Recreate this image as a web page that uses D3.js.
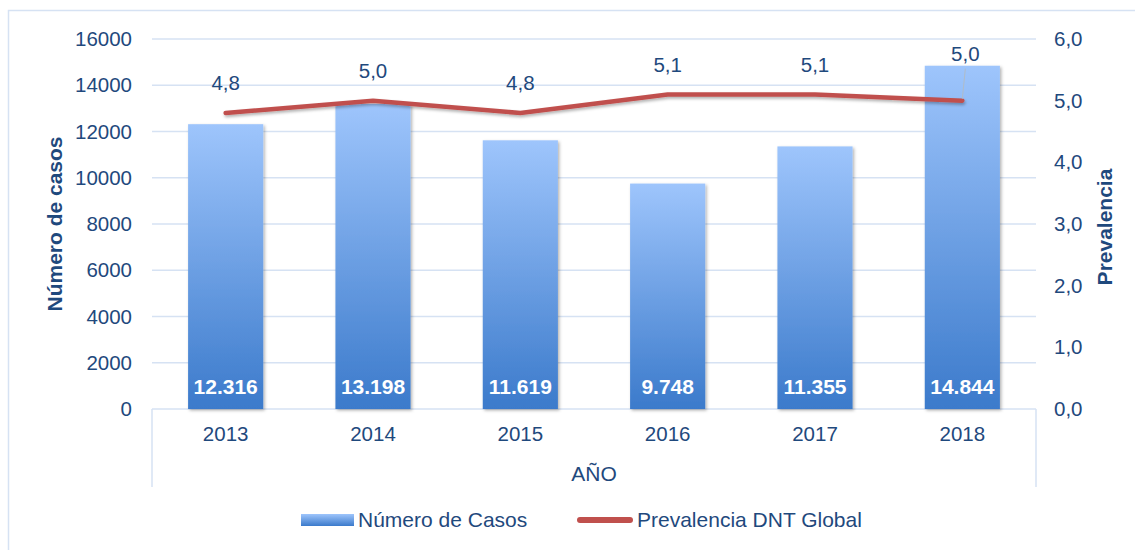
<!DOCTYPE html>
<html>
<head>
<meta charset="utf-8">
<script src="https://cdn.jsdelivr.net/npm/d3@7/dist/d3.min.js"></script>
<style>
  html, body { margin: 0; padding: 0; background: #fff; }
  svg { display: block; font-family: "Liberation Sans", Arial, sans-serif; }
</style>
</head>
<body>
<svg id="chart" width="1135" height="550"></svg>
<script>
// Casos y prevalencia de desnutrición por año
const years = ["2013", "2014", "2015", "2016", "2017", "2018"];
const casos = [12316, 13198, 11619, 9748, 11355, 14844];
const prevalencia = [4.8, 5.0, 4.8, 5.1, 5.1, 5.0];
const leftTicks = [0, 2000, 4000, 6000, 8000, 10000, 12000, 14000, 16000];
const rightTicks = [0, 1, 2, 3, 4, 5, 6];

const textColor = "#1f497d";
const gridColor = "#d6e2f3";
const lineColor = "#c0504d";

const svg = d3.select("#chart");
const defs = svg.append("defs");

const grad = defs.append("linearGradient")
  .attr("id", "barGrad").attr("x1", 0).attr("y1", 0).attr("x2", 0).attr("y2", 1);
grad.append("stop").attr("offset", "0%").attr("stop-color", "#9ec5fc");
grad.append("stop").attr("offset", "100%").attr("stop-color", "#3b7acb");

const legGrad = defs.append("linearGradient")
  .attr("id", "legGrad").attr("x1", 0).attr("y1", 0).attr("x2", 0).attr("y2", 1);
legGrad.append("stop").attr("offset", "0%").attr("stop-color", "#9ec5fc");
legGrad.append("stop").attr("offset", "100%").attr("stop-color", "#3b7acb");

const shadow = defs.append("filter").attr("id", "shadow")
  .attr("x", "-10%").attr("y", "-10%").attr("width", "130%").attr("height", "130%");
shadow.append("feDropShadow").attr("dx", 1.5).attr("dy", 1.5)
  .attr("stdDeviation", 1.5).attr("flood-color", "#000").attr("flood-opacity", 0.3);

const lineShadow = defs.append("filter").attr("id", "lineShadow")
  .attr("x", "-5%").attr("y", "-50%").attr("width", "110%").attr("height", "200%");
lineShadow.append("feDropShadow").attr("dx", 1).attr("dy", 2)
  .attr("stdDeviation", 1.5).attr("flood-color", "#000").attr("flood-opacity", 0.3);

// Outer frame
svg.append("rect")
  .attr("x", 8.5).attr("y", 10.5).attr("width", 1140).attr("height", 560)
  .attr("fill", "none").attr("stroke", gridColor).attr("stroke-width", 1.5);

const plot = { left: 152, right: 1036, top: 39, bottom: 409 };

const x = d3.scaleBand().domain(years)
  .range([plot.left, plot.right])
  .paddingInner(0.49).paddingOuter(0.245);

const yLeft = d3.scaleLinear().domain([0, 16000]).range([plot.bottom, plot.top]);
const yRight = d3.scaleLinear().domain([0, 6]).range([plot.bottom, plot.top]);

// Gridlines
svg.append("g").selectAll("line").data(leftTicks.filter(d => d > 0)).join("line")
  .attr("x1", plot.left).attr("x2", plot.right)
  .attr("y1", d => yLeft(d)).attr("y2", d => yLeft(d))
  .attr("stroke", gridColor).attr("stroke-width", 1.5);

// Category axis box (baseline and side rules)
const axisBox = svg.append("g").attr("stroke", gridColor).attr("stroke-width", 1.5).attr("fill", "none");
axisBox.append("line").attr("x1", plot.left).attr("x2", plot.right)
  .attr("y1", yLeft(0)).attr("y2", yLeft(0));
axisBox.append("line").attr("x1", plot.left).attr("x2", plot.left)
  .attr("y1", yLeft(0)).attr("y2", 487);
axisBox.append("line").attr("x1", plot.right).attr("x2", plot.right)
  .attr("y1", yLeft(0)).attr("y2", 487);

// Left axis
const gLeft = svg.append("g")
  .attr("transform", `translate(${plot.left - 20},0)`)
  .call(d3.axisLeft(yLeft).tickValues(leftTicks).tickSize(0).tickPadding(0).tickFormat(d3.format("d")));
gLeft.select(".domain").remove();
gLeft.selectAll("text")
  .attr("fill", textColor).attr("font-size", "20.5px")
  .attr("font-family", "Liberation Sans, Arial, sans-serif");

// Right axis
const gRight = svg.append("g")
  .attr("transform", `translate(${plot.right + 18},0)`)
  .call(d3.axisRight(yRight).tickValues(rightTicks).tickSize(0).tickPadding(0)
    .tickFormat(d => d3.format(".1f")(d).replace(".", ",")));
gRight.select(".domain").remove();
gRight.selectAll("text")
  .attr("fill", textColor).attr("font-size", "20.5px")
  .attr("font-family", "Liberation Sans, Arial, sans-serif");

// Bottom axis
const gBottom = svg.append("g")
  .attr("transform", `translate(0,${plot.bottom + 17})`)
  .call(d3.axisBottom(x).tickSize(0).tickPadding(0));
gBottom.select(".domain").remove();
gBottom.selectAll("text")
  .attr("fill", textColor).attr("font-size", "20.5px")
  .attr("font-family", "Liberation Sans, Arial, sans-serif");

// Bars
svg.append("g").selectAll("rect").data(years).join("rect")
  .attr("x", d => x(d))
  .attr("width", x.bandwidth())
  .attr("y", (d, i) => yLeft(casos[i]))
  .attr("height", (d, i) => yLeft(0) - yLeft(casos[i]))
  .attr("fill", "url(#barGrad)")
  .attr("filter", "url(#shadow)");

// Bar value labels
const fmtCasos = v => d3.format(",")(v).replace(/,/g, ".");
svg.append("g").selectAll("text").data(years).join("text")
  .attr("x", d => x(d) + x.bandwidth() / 2)
  .attr("y", plot.bottom - 15)
  .attr("text-anchor", "middle")
  .attr("fill", "#fff").attr("font-weight", "bold").attr("font-size", "21px")
  .text((d, i) => fmtCasos(casos[i]));

// Prevalence line
const cx = d => x(d) + x.bandwidth() / 2;
const line = d3.line().x((d, i) => cx(years[i])).y(d => yRight(d));
svg.append("path")
  .datum(prevalencia)
  .attr("d", line)
  .attr("fill", "none")
  .attr("stroke", lineColor).attr("stroke-width", 4.5)
  .attr("stroke-linecap", "round").attr("stroke-linejoin", "round")
  .attr("filter", "url(#lineShadow)");

// Prevalence labels (the last one sits higher, with a leader line)
const labelOffset = (i) => i === years.length - 1 ? 40 : 23;
const last = years.length - 1;
svg.append("line")
  .attr("x1", cx(years[last]) + 3).attr("y1", yRight(prevalencia[last]) - 32)
  .attr("x2", cx(years[last])).attr("y2", yRight(prevalencia[last]) - 2)
  .attr("stroke", "#b0bcc8").attr("stroke-width", 1);
svg.append("g").selectAll("text").data(prevalencia).join("text")
  .attr("x", (d, i) => cx(years[i]) + (i === last ? 3 : 0))
  .attr("y", (d, i) => yRight(d) - labelOffset(i))
  .attr("text-anchor", "middle")
  .attr("fill", textColor).attr("font-size", "20.5px")
  .text(d => d3.format(".1f")(d).replace(".", ","));

// Axis titles
svg.append("text")
  .attr("transform", `translate(62,224) rotate(-90)`)
  .attr("text-anchor", "middle")
  .attr("fill", textColor).attr("font-weight", "bold").attr("font-size", "21px")
  .text("Número de casos");
svg.append("text")
  .attr("transform", `translate(1112,227) rotate(-90)`)
  .attr("text-anchor", "middle")
  .attr("fill", textColor).attr("font-weight", "bold").attr("font-size", "21px")
  .text("Prevalencia");
svg.append("text")
  .attr("x", (plot.left + plot.right) / 2).attr("y", 481)
  .attr("text-anchor", "middle")
  .attr("fill", textColor).attr("font-size", "21px")
  .text("AÑO");

// Legend
const legend = svg.append("g");
legend.append("rect")
  .attr("x", 301).attr("y", 514).attr("width", 53).attr("height", 12)
  .attr("fill", "url(#legGrad)");
legend.append("text")
  .attr("x", 358).attr("y", 527)
  .attr("fill", textColor).attr("font-size", "21px")
  .text("Número de Casos");
legend.append("line")
  .attr("x1", 580).attr("x2", 630).attr("y1", 520).attr("y2", 520)
  .attr("stroke", lineColor).attr("stroke-width", 6).attr("stroke-linecap", "round");
legend.append("text")
  .attr("x", 637).attr("y", 527)
  .attr("fill", textColor).attr("font-size", "21px")
  .text("Prevalencia DNT Global");
</script>
</body>
</html>
